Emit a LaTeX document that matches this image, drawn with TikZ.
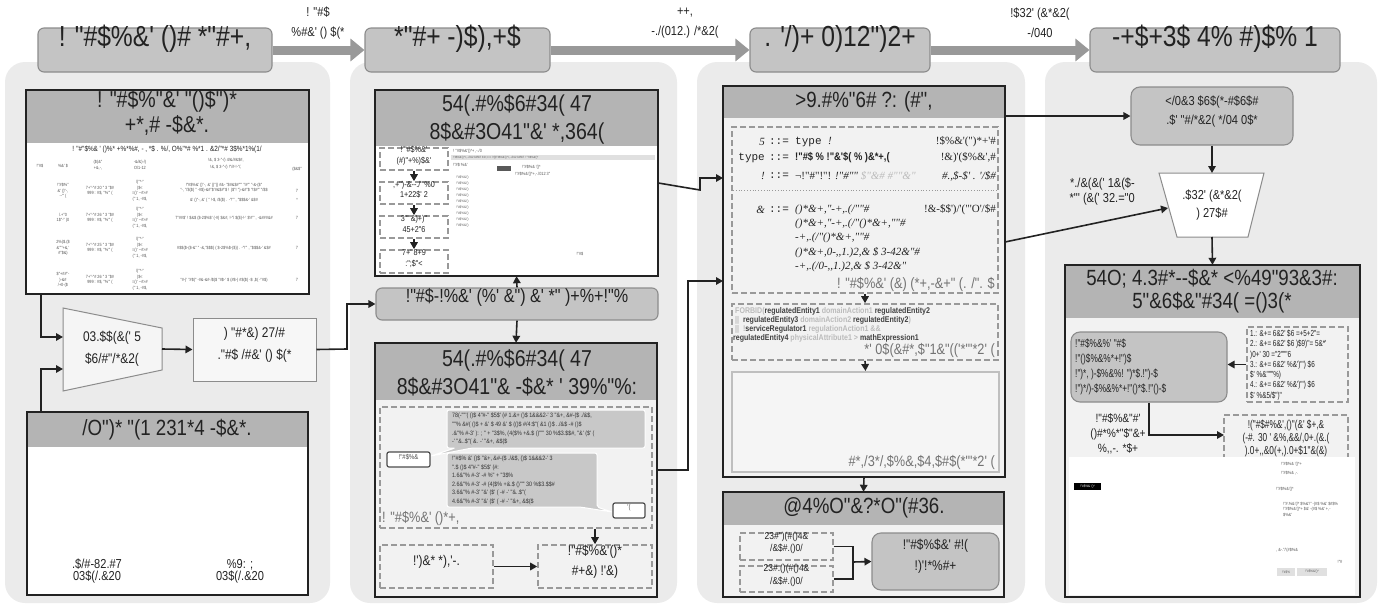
\documentclass[tikz,border=0pt]{standalone}
\usepackage{fontspec}
\newfontfamily\gf{Liberation Sans}[FakeStretch=0.85]
\newfontfamily\gfn{Liberation Sans}[FakeStretch=0.72]
\newfontfamily\gfs{Liberation Serif}
\newfontfamily\gfm{Liberation Mono}
\usetikzlibrary{arrows.meta,fit,calc}
\definecolor{panel}{HTML}{EBEBEB}
\definecolor{hdr}{HTML}{C4C4C4}
\definecolor{hdrb}{HTML}{8C8C8C}
\definecolor{tgray}{HTML}{B4B4B4}
\definecolor{dgray}{HTML}{999999}
\definecolor{bubble}{HTML}{C8C8C8}
\definecolor{faint}{HTML}{BBBBBB}
\definecolor{ink}{HTML}{222222}
\definecolor{midtxt}{HTML}{555555}
\definecolor{inner}{HTML}{F2F2F2}
\newcommand\fsz[2]{\fontsize{#1}{#2}\selectfont}
\begin{document}
\begin{tikzpicture}[x=1pt,y=-1pt,font=\gf,
 panelbg/.style={fill=panel, rounded corners=20pt},
 hbox/.style={draw=hdrb, fill=hdr, rounded corners=6pt, line width=1.1pt, inner sep=0pt, align=center, text=ink},
 blk/.style={draw=ink, line width=2pt, inner sep=0pt},
 dbox/.style={draw=dgray, dash pattern=on 6pt off 3pt, line width=1.6pt, inner sep=0pt, align=center, text=ink},
 wbox/.style={draw=hdrb, fill=white, line width=1pt, inner sep=0pt, align=center, text=ink},
 txt/.style={inner sep=0pt, align=center, text=ink},
 tiny/.style={inner sep=0pt, font=\gf\fsz{4.5}{5.5}, text=midtxt, align=center},
 conn/.style={draw=ink, line width=1.6pt, -{Triangle[length=7pt,width=7.5pt]}},
 plain/.style={draw=ink, line width=1.6pt},
 big/.style={draw=dgray, line width=9pt, -{Triangle[length=14pt,width=22pt]}},
]
\useasboundingbox (0,0) rectangle (1382,605);
% ---------------- panels
\fill[panelbg] (5,62) rectangle (330,603);
\fill[panelbg] (350,62) rectangle (677,603);
\fill[panelbg] (697,62) rectangle (1025,603);
\fill[panelbg] (1045,62) rectangle (1377,603);

% ---------------- top row
\node[hbox, fit={(38,28) (272,72)}, font=\gf\fsz{29}{30}] (h1) {! "\#\$\%\&' ()\# *"\#+,};
\node[hbox, fit={(365,28) (550,72)}, font=\gf\fsz{29}{30}] (h2) {*"\#+ -)\$),+\$};
\node[hbox, fit={(750,28) (930,72)}, font=\gf\fsz{29}{30}] (h3) {. '/)+ 0)12")2+};
\node[hbox, fit={(1090,28) (1340,72)}, font=\gf\fsz{29}{30}] (h4) {-+\$+3\$ 4\% \#)\$\% 1};
\draw[big] (h1.east) -- (h2.west);
\draw[big] (h2.east) -- (h3.west);
\draw[big] (h3.east) -- (h4.west);
\node[txt, font=\gf\fsz{13}{20}] (l1) at (318,23) {! "\#\$\\\%\#\&' () \$(*};
\node[txt, font=\gf\fsz{13}{20}] (l2) at (685,23) {++,\\-./(012.) /*\&2(};
\node[txt, font=\gf\fsz{13}{20}] (l3) at (1040,23) {!\$32' (\&*\&2(\\-/040};

% ================= PANEL 1
\node[fit={(26,90) (309,294)}, inner sep=0pt, fill=white] (tbl) {};
\fill[tgray] (26,90) rectangle (309,143);
\draw[ink, line width=2pt] (tbl.north west) rectangle (tbl.south east);
\node[txt, font=\gf\fsz{23}{25}] (tblh) at (167,113) {! "\#\$\%"\&' "()\$")*\\+*,\# -\$\&*.};
\node[tiny, font=\gf\fsz{7.5}{8}, text=ink] (tblt) at (167,149) {! "\#"\$\%\& ' ()\%* +\%*\%\#, - , *\$ . \%/, O\%"*\# \%*1 . \&2/"*\# 3\$\%*1\%(1/};
\node[tiny] (c1) at (40,166) {!"\#\$};
\node[tiny] (c2) at (63,166) {\%\&' \$};
\node[tiny] (c3) at (98,165) {(\$)\&"\\+\&,-,};
\node[tiny] (c4) at (140,165) {-\&/\&)-/)\\O/1-12};
\node[tiny] (c5) at (226,164) {!\&, \$ 3-"-/) 4!\&/\#\&\$\#,\\[2pt]!\&, \$ 3-"-/) !"/\#-!-"/,};
\node[tiny] (c6) at (297,169) {(\$\&\$"};
\foreach \yy/\aa/\bb/\nn in {191/{!"\#\$\%"\\\&' ()"-,\\--"' (}/20/1, 218/{/.+"0\\1\$"-" (0}/26/2, 248/{2\%(\$.(\$\\\&"'"+\&,'\\\#"\$\&)}/25/3, 280/{\$"+\#\#"-\\)-\&\#\\/+0-(\$}/26/4}{
 \node[tiny] (ra\nn) at (63,\yy) {\aa};
 \node[tiny] (rb\nn) at (100,\yy) {7+"-"\# \bb\ " 3 "\$\#\\999 : \#\$, "\%"' (};
 \node[tiny] (rc\nn) at (140,\yy) {/)"*-"\\|\$<\\=()' --\#>\#\\(" 1, -\#\$,};
 \node[tiny] (re\nn) at (297,\yy) {7};
}
\node[tiny] (rd1) at (224,188) {!"\#\$\%\&' ()"-, \&' ()"() \#\&- "\$\#\&\$\#""' "!\#"' "-\&-(\$"\\"-, "/\$(\$) " -\#\$)-\&\#"\$'\#\&\$\#"\$ ! (\$"! ")-\&\#"\$ "!\$\#"' "/\$\$};
\node[tiny] (rd1b) at (224,200) {\&' ()"-, \&' ( " !-\$, /\$(\$) . -"!"' , "\$\$\$\&-' \&\$\#};
\node[tiny] (rx1) at (297,200) {*};
\node[tiny] (rd2) at (224,218) {7"\#\#\$' ! \$\&\$ (\$-2\$\%\$' (-\#) \$\&\#, !-"/ \$(\$)-!-' \$'\#"' , -\&\#\#\#\&\#};
\node[tiny] (rd3) at (224,248) {\#\$\$(\$-(\$-\&'' " -\&,"\$\$\$) ( \$-2\$\%\$-(\$)) . -"!"' , "\$\$\$\&-' \&\$\#};
\node[tiny] (rd4) at (224,280) {"\#-)' "\#\$(" -\#\&-\&\#-/\$(\$ "\#\$-' \$ (\#\$-) \#\$(\$) -\$ ,\$( -"\#\$)};
% trapezoid 1
\filldraw[fill=white!96!black, draw=hdrb, line width=1pt] (63,308) -- (162,328) -- (162,370) -- (63,391) -- cycle;
\node[txt, font=\gf\fsz{14}{22}] (tp1) at (112,349) {03.\$\$(\&(' 5\\\$6/\#"/*\&2(};
\coordinate (tp1in) at (63,337);
\coordinate (tp1in2) at (63,369);
\coordinate (tp1out) at (162,349);
\node[wbox, fill=white!97!black, fit={(193,318) (316,381)}, font=\gf\fsz{14}{22}] (b1) {) "\#*\&) 27/\#\\."\#\$ /\#\&' () \$(*};
% bottom box
\node[fit={(27,412) (308,595)}, inner sep=0pt, fill=white] (bb1) {};
\fill[tgray] (27,412) rectangle (308,447);
\draw[ink, line width=2pt] (bb1.north west) rectangle (bb1.south east);
\node[txt, font=\gf\fsz{22}{24}] (bb1h) at (167,430) {/O")* "(1 231*4 -\$\&*.};
\node[txt, font=\gf\fsz{13}{12}] (bb1a) at (97,571) {.\$/\#-82.\#7\\03\$(/.\&20};
\node[txt, font=\gf\fsz{13}{12}] (bb1b) at (240,571) {\%9: ;\\03\$(/.\&20};
\draw[conn] (tbl.south west) ++(15,0) |- (tp1in);
\draw[conn] (bb1.north west) ++(14,0) |- (tp1in2);
\draw[conn] (tp1out) -- (b1.west);
\coordinate (w1) at (347,349);

% ================= PANEL 2
\node[fit={(375,90) (658,276)}, inner sep=0pt, fill=white] (s2) {};
\fill[tgray] (375,90) rectangle (658,146);
\draw[ink, line width=2pt] (s2.north west) rectangle (s2.south east);
\node[txt, font=\gf\fsz{23}{28}] (s2h) at (517,119) {54(.\#\%\$6\#34( 47\\8\$\&\#3O41"\&' *,364(};
\node[dbox, fill=white, fit={(380,148) (448,170)}, font=\gf\fsz{8.5}{10.5}] (d1) {!'"\#\$\%\&'\\(\#)"+\%)\$\&'};
\node[dbox, fill=white, fit={(380,182) (448,204)}, font=\gf\fsz{8.5}{10.5}] (d2) {,+")-\&--./'"\%0\\1+22\$' 2};
\node[dbox, fill=white, fit={(380,216) (448,238)}, font=\gf\fsz{8.5}{10.5}] (d3) {3"' \&)+)"\\45+2"6};
\node[dbox, fill=white, fit={(380,250) (448,273)}, font=\gf\fsz{8.5}{10.5}] (d4) {7+' 8+9\\:";\$"<};
\draw[conn] (d1.south) -- (d2.north);
\draw[conn] (d2.south) -- (d3.north);
\draw[conn] (d3.south) -- (d4.north);
% screenshot contents
\node[tiny, anchor=west] (sa) at (453,151) {! "\#\$\%\&'()*+ ,-./0};
\fill[black!12] (451,155) rectangle (655,160);
\node[tiny, anchor=west, font=\gf\fsz{3}{4}] (sb) at (453,157.5) {!"\#\$\%\&'()*+,-./012 34567 8 9:;<=> ?@!"\#\$\%\&'()*+,-./012 34567 ! ""\#\$\%\&'()*};
\node[tiny, anchor=west] (sc) at (453,165) {!"\#\$ \%\&'};
\fill[black!65] (497,166) rectangle (511,171);
\node[tiny, anchor=west] (sd) at (522,167) {!"\#\$\%\& '()*};
\node[tiny, anchor=west] (se) at (515,174) {!"\#\$\%\&'()*+,-./012 3"};
\foreach \yy [count=\k] in {178,184,190,196,202,208,214,220,226}{
 \node[tiny, anchor=west, font=\gf\fsz{3.5}{4}] (sl\k) at (456,\yy) {!"\#\$\%\&'()};
}
\node[tiny] (sz) at (580,254) {!"\#\$};
\node[hbox, fit={(376,288) (658,320)}, font=\gf\fsz{19}{22}] (r2) {!"\#\$-!\%\&' (\%' \&") \&' *" )+\%+!"\%};
\draw[conn] (r2.north) -- (s2.south);
\draw[conn] (b1.east) -- (w1) |- (r2.west);
% box 2
\node[fit={(375,343) (657,597)}, inner sep=0pt, fill=inner] (bx2) {};
\fill[tgray] (375,343) rectangle (657,400);
\draw[ink, line width=2pt] (bx2.north west) rectangle (bx2.south east);
\draw[conn] (r2.south) -- (bx2.north);
\node[txt, font=\gf\fsz{23}{28}] (bx2h) at (517,373) {54(.\#\%\$6\#34( 47\\8\$\&\#3O41"\& -\$\&* ' 39\%"\%:};
\node[dbox, fit={(380,407) (652,528)}] (db) {};
\filldraw[fill=bubble, draw=white, line width=1pt, rounded corners=2pt] (447,410) -- (645,410) -- (645,448) -- (472,448) -- (431,456) -- (455,448) -- (447,448) -- cycle;
\node[txt, anchor=north west, align=left, font=\gf\fsz{6.3}{8.6}, text=black!80] (bu1) at (452,413) {78(-""'( ()\$ 4"\#-" \$5\$' (\# 1.\&+ ()\$ 1\&\&\&2-' 3 "\&+, \&\#-(\$ ./\&\$,\\""\% \&\#( ()\$ + \&' \$ 49 \&' \$ (()\$ \#/4:\$"( \&1 ()\$ ../\&\$ -\# ()\$\\.\&"\% \#-3' ): ; " + "3\$\%, (4(\$\% +\&.\$ ()""' 30 \%\$3.\$\$\#, "\&' (\$' (\\-' "\&..\$"( \&. -' "\&+, \&\$(\$};
\node[draw=black!70, fill=white, line width=1.2pt, rounded corners=2pt, fit={(387,452) (430,467)}, inner sep=0pt, font=\gf\fsz{7}{8}, text=black!70] (sb1) {!"\#\$\%\&};
\filldraw[fill=bubble, draw=white, line width=1pt, rounded corners=2pt] (447,453) -- (597,453) -- (597,507) -- (612,512) -- (580,507) -- (447,507) -- cycle;
\node[txt, anchor=north west, align=left, font=\gf\fsz{6.3}{8.5}, text=black!80] (bu2) at (452,456) {!"\#\$\% \&' ()\$ "\&+, \&\#-(\$ ./\&\$, ()\$ 1\&\&\&2-' 3\\".\$ ()\$ 4"\#-" \$5\$' (\#:\\1.6\&"\% \#-3' -\# \%" + "3\$\%\\2.6\&"\% \#-3' -\# (4(\$\% +\&.\$ ()""' 30 \%\$3.\$\$\#\\3.6\&"\% \#-3' "\&' (\$' ( -\# -' "\&..\$"(\\4.6\&"\% \#-3' "\&' (\$' ( -\# -' "\&+, \&\$(\$};
\node[draw=black!70, fill=white, line width=1.2pt, rounded corners=2pt, fit={(613,503) (645,518)}, inner sep=0pt, font=\gf\fsz{7}{8}, text=black!70] (sb2) {'(};
\node[txt, anchor=west, font=\gf\fsz{15}{16}, text=black!55] (dbl) at (382,518) {! "\#\$\%\&' ()*+,};
\node[dbox, fit={(380,545) (493,588)}, font=\gf\fsz{14}{20}] (lb) {!')\&* *),'-.};
\node[dbox, fit={(538,545) (652,588)}, font=\gf\fsz{14}{20}] (rb) {!"\#\$\%\&'()*\\\#+\&) !'\&)};
\draw[conn] (rb.north |- db.south) -- (rb.north);
\draw[conn] (lb.east) -- (rb.west);

% ================= PANEL 3
\node[fit={(723,86) (1005,477)}, inner sep=0pt, fill=inner] (ob3) {};
\fill[tgray] (723,86) rectangle (1005,118);
\draw[ink, line width=2pt] (ob3.north west) rectangle (ob3.south east);
\node[txt, font=\gf\fsz{22}{24}] (ob3h) at (864,102) {>9.\#\%"6\# ?: (\#",};
\coordinate (w3) at (700,190);
\coordinate (p3in1) at (723,178);
\coordinate (w2) at (688,470);
\coordinate (p3in2) at (723,281);
\draw[conn] (s2.east) -- (w3) |- (p3in1);
\draw[conn] (bx2.east) -- (w2) |- (p3in2);
% grammar box
\node[dbox, fit={(732,127) (998,293)}] (g) {};
\draw[dgray, dotted, line width=0.8pt] (733,190) -- (997,190);
\begin{scope}[every node/.style={inner sep=0pt, text=ink, font=\gf\fsz{11}{13}}]
\node[anchor=east] (g1l) at (765,142) {\gfs\itshape 5};
\node (g1e) at (779,142) {\gfm ::=};
\node[anchor=west] (g1r) at (795,142) {\gfm type \gfs\itshape !};
\node[anchor=east] (g1x) at (996,142) {\gfs !\$\%\&'(")*+'\#};
\node[anchor=east] (g2l) at (765,158) {\gfm type};
\node (g2e) at (779,158) {\gfm ::=};
\node[anchor=west] (g2r) at (795,158) {\bfseries !"\#\$ \% !"\&'\$( \% )\&*+,(};
\node[anchor=east] (g2x) at (996,158) {\gfs !\&)'(\$\%\&',\#};
\node[anchor=east] (g3l) at (765,176) {\gfs\itshape !};
\node (g3e) at (779,176) {\gfm ::=};
\node[anchor=west] (g3r) at (795,176) {\gfs ¬!"\#"!"! \itshape !"\#"" \textcolor{faint}{\$"\&\# \#""\&"}};
\node[anchor=east] (g3x) at (996,176) {\gfs\itshape \#.,\$-\$' . '/\$\#};
\node[anchor=east] (g4l) at (765,210) {\gfs\itshape \&};
\node (g4e) at (779,210) {\gfm ::=};
\node[anchor=west] (g4r) at (795,210) {\gfs\itshape ()*\&+,"-+,.(/""\#};
\node[anchor=east] (g4x) at (996,210) {\gfs !\&-\$\$')/'("'O'/\$\#};
\node[anchor=west] (g5r) at (795,224) {\gfs\itshape ()*\&+,"-+,.(/"()*\&+,""\#};
\node[anchor=west] (g6r) at (795,238) {\gfs\itshape -+,.(/"()*\&+,""\#};
\node[anchor=west] (g7r) at (795,253) {\gfs\itshape ()*\&+,0-,,1.)2,\& \$ 3-42\&"\#};
\node[anchor=west] (g8r) at (795,267) {\gfs\itshape -+,.(/0-,,1.)2,\& \$ 3-42\&"};
\end{scope}
\node[txt, anchor=east, font=\gf\fsz{15}{16}, text=black!55] (gb) at (995,284) {! "\#\$\%\&' (\&) (*+,-\&+" (. /". \$};
\node[dbox, fit={(732,304) (998,360)}] (f) {};
\begin{scope}[every node/.style={inner sep=0pt, anchor=west, font=\gf\bfseries\fsz{8.3}{9}, text=black!75}]
\node (f1) at (735,311) {\textcolor{faint}{FORBID(}regulatedEntity1 \textcolor{faint}{domainAction1} regulatedEntity2};
\node (f2) at (735,320) {\textcolor{faint}{||}\ \ regulatedEntity3 \textcolor{faint}{domainAction2} regulatedEntity2\textcolor{faint}{)}};
\node (f3) at (735,329) {\textcolor{faint}{||}\ \ \textcolor{faint}{!}serviceRegulator1 \textcolor{faint}{regulationAction1 \&\&}};
\node (f4) at (733,338) {regulatedEntity4 \textcolor{faint}{physicalAttribute1 >} mathExpression1};
\end{scope}
\node[txt, anchor=east, font=\gf\fsz{15}{16}, text=black!55] (fb) at (995,350) {*' 0\$(\&\#*,\$"1\&"(('*"'*2' (};
\node[fit={(732,372) (999,472)}, inner sep=0pt, draw=black!25, line width=2pt, fill=white!96!black] (e) {};
\node[txt, anchor=east, font=\gf\fsz{15}{16}, text=black!55] (eb) at (995,462) {\#*,/3*/,\$\%\&,\$4,\$\#\$(*"'*2' (};
\draw[conn] (g.south) -- (f.north);
\draw[conn] (f.south) -- (e.north);
% bottom box
\node[fit={(723,492) (1004,597)}, inner sep=0pt, fill=inner] (ob4) {};
\fill[tgray] (723,492) rectangle (1004,525);
\draw[ink, line width=2pt] (ob4.north west) rectangle (ob4.south east);
\node[txt, font=\gf\fsz{22}{24}] (ob4h) at (864,508) {@4\%O"\&?*O"(\#36.};
\draw[conn] (ob3.south) -- (ob4.north);
\node[dbox, fit={(740,533) (833,560)}, font=\gf\fsz{10}{12.5}] (a3) {23\#")(\#()4\&\\/\&\$\#.()0/};
\node[dbox, fit={(740,566) (833,592)}, font=\gf\fsz{10}{12.5}] (b3) {23\#.()(\#()4\&\\/\&\$\#.()0/};
\node[hbox, fit={(872,533) (999,590)}, rounded corners=9pt, font=\gf\fsz{14}{21}] (r3) {!"\#\$\%\$\&' \#!(\\!)'!*\%\#+};
\coordinate (jn) at (853,562);
\draw[plain] (a3.east) -| (jn);
\draw[plain] (b3.east) -| (jn);
\draw[conn] (jn) -- (r3.west);

% ================= PANEL 4
\node[hbox, fit={(1131,87) (1293,145)}, rounded corners=9pt, font=\gf\fsz{13}{19}] (r4a) {</0\&3 \$6\$(*-\#\$6\$\#\\.\$' "\#/*\&2( */04 0\$*};
\draw[conn] (ob3.east |- r4a.west) -- (r4a.west);
\filldraw[fill=white, draw=hdrb, line width=1pt] (1159,173) -- (1264,173) -- (1248,237) -- (1177,237) -- cycle;
\node[txt, font=\gf\fsz{13}{18}] (tp4) at (1212,205) {.\$32' (\&*\&2(\\) 27\$\#};
\coordinate (tp4top) at (1212,173);
\coordinate (tp4bot) at (1212,237);
\coordinate (tp4in) at (1168,208);
\coordinate (p3o2) at (1005,242);
\draw[conn] (r4a.south) -- (tp4top);
\draw[conn] (p3o2) -- (tp4in);
\node[txt, anchor=east, align=right, font=\gf\fsz{13}{15}] (sl) at (1135,192) {*./\&(\&(' 1\&(\$-\\*"' (\&(' 32.="0};
\node[fit={(1065,265) (1360,597)}, inner sep=0pt, fill=inner] (bb4) {};
\fill[tgray] (1065,265) rectangle (1360,318);
\draw[conn] (tp4bot) -- (bb4.north);
\node[txt, font=\gf\fsz{22}{23}] (bb4h) at (1212,291) {54O; 4.3\#*--\$\&* <\%49"93\&3\#:\\5"\&6\$\&"\#34( =()3(*};
\node[hbox, fit={(1071,332) (1227,402)}, rounded corners=9pt] (r4b) {};
\node[txt, anchor=west, align=left, font=\gfn\fsz{11.5}{15}] (r4bt) at (1075,367) {!"\#\$\%\&\%' "\#\$\\!"()\$\%\&\%*+!")\$\\!")*, )-\$\%\&\%! ")*\$.!")-\$\\!")*/)-\$\%\&\%*+!"()*\$.!"()-\$};
\node[dbox, fit={(1247,327) (1348,402)}] (d4a) {};
\node[txt, anchor=west, align=left, font=\gfn\fsz{8.8}{10.3}] (d4at) at (1250,365) {1.: \&+= 6\&2' \$6 =+5+2"=\\2.: \&+= 6\&2' \$6 )\$9)"= 5\&*'\\)0+' 30 ="2"""6\\3.: \&+= 6\&2' \%\&')"') \$6\\\$' \%\&"""\%)\\4.: \&+= 6\&2' \%\&')"') \$6\\\$' \%\&5/\$")"};
\draw[conn] (d4a.west) -- (r4b.east |- d4a.west);
\node[txt, font=\gf\fsz{12}{15}] (t4) at (1118,434) {!"\#\$\%\&"\#'\\()\#*\%*"\$"\&+\\\%,,-. *\$+};
\node[dbox, fit={(1224,415) (1348,470)}, font=\gfn\fsz{11.5}{13}] (d4b) {!("\#\$\#\%\&',()"(\&' \$+,\&\\(-\#. 30 ' \&\%,\&\&/,0+.(\&.(\\).0+,,\&0(+,).0+\$1"\&(\&)};
\coordinate (d4bin) at (1224,435);
\draw[conn] (r4b.south) |- (d4bin);
\node[fit={(1069,457) (1355,595)}, inner sep=0pt, fill=white] (sc4) {};
\fill[black] (1074,483) rectangle (1101,490);
\node[tiny, font=\gf\fsz{3.5}{4}, text=white] (sc4a) at (1087.5,486.5) {!"\#\$\%\& '()*};
\node[tiny, anchor=west] (sc4b) at (1281,464) {!"\#\$\%\& '()*+};
\node[tiny, anchor=west] (sc4c) at (1281,473) {!"\#\$\%\& ,-.};
\node[tiny, anchor=west] (sc4d) at (1276,489) {!"\#\$\%\&'()*};
\node[tiny, anchor=west, align=left] (sc4e) at (1283,509) {!"\#.\%\&'(/* \$\%\&'!" -(\#\$ \%\&' \$\#\$\%\\!"\#\$\%\&'()*+ \$\&' -(\#\$ \%\&' +,-\\\$\%\&'};
\node[tiny, anchor=west] (sc4f) at (1276,550) {, \&-."/'(\#\$\%\&};
\node[tiny] (sc4g) at (1340,562) {!"\#};
\fill[black!12] (1277,568) rectangle (1295,576);
\fill[black!12] (1297,568) rectangle (1327,576);
\node[tiny, font=\gf\fsz{3.5}{4}] (sc4h) at (1286,572) {!"\#\$\%};
\node[tiny, font=\gf\fsz{3.5}{4}] (sc4i) at (1312,572) {!"\#\$\%\&'()*};
\draw[ink, line width=2pt] (bb4.north west) rectangle (bb4.south east);
\end{tikzpicture}
\end{document}
